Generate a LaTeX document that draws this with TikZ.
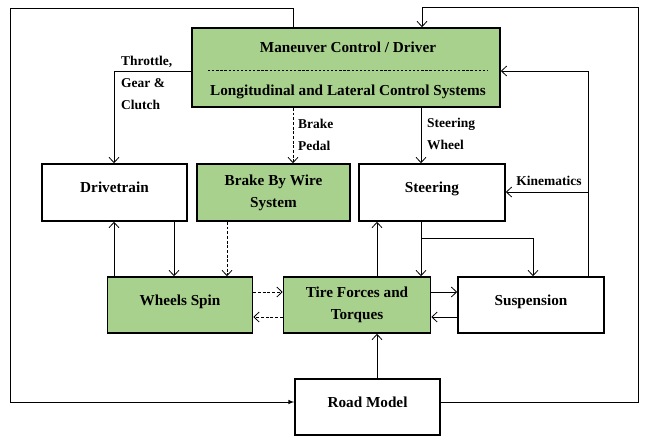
\documentclass[tikz,border=0pt]{standalone}
\usepackage{fontspec}
\usetikzlibrary{arrows.meta}
\setmainfont{Liberation Serif}
\definecolor{boxgreen}{RGB}{169,209,142}

\tikzset{
	    blk/.style={
					rectangle,
					draw=black,
					line width=1.4pt,
					inner sep=0pt,
					align=center,
					font=\bfseries\fontsize{13}{18.7}\selectfont
	    },
	    grn/.style={fill=boxgreen},
	    oneline/.style={text height=0.75em, text depth=0.75em},
	    lbl/.style={
					inner sep=0pt,
					align=left,
					font=\bfseries\fontsize{11.5}{18.7}\selectfont
	    },
	    link/.style={black, line width=0.7pt},
	    dlink/.style={link, dash pattern=on 2.5pt off 1.5pt},
	    >={Straight Barb[length=4.5pt, width=8.5pt]}
		}

\begin{document}
\begin{tikzpicture}[x=0.03cm, y=-0.03cm]
			\useasboundingbox (0,0) rectangle (648,436);

			% boxes
			\draw (346,67.5) node[blk, grn, minimum width=9.24cm, minimum height=2.37cm] (main) {};
			\draw (114.5,192.5) node[blk, oneline, minimum width=4.35cm, minimum height=1.71cm] (drive) {Drivetrain};
			\draw (273.5,192.5) node[blk, grn, minimum width=4.59cm, minimum height=1.71cm] (brake) {Brake By Wire\\System};
			\draw (432,192.5) node[blk, oneline, minimum width=4.38cm, minimum height=1.71cm] (steer) {Steering};
			\draw (180,305) node[blk, grn, oneline, minimum width=4.35cm, minimum height=1.68cm] (wheels) {Wheels Spin};
			\draw (357,305) node[blk, grn, minimum width=4.41cm, minimum height=1.68cm] (tire) {Tire Forces and\\Torques};
			\draw (531,305) node[blk, oneline, minimum width=4.38cm, minimum height=1.68cm] (susp) {Suspension};
			\draw (367.5,407) node[blk, oneline, minimum width=4.35cm, minimum height=1.68cm] (road) {Road Model};

			% driver box contents
			\draw (348,47) node[blk, draw=none] (title) {Maneuver Control / Driver};
			\draw (348,92) node[blk, draw=none] (subtitle) {Longitudinal and Lateral Control Systems};
			\draw[black, line width=0.5pt, dash pattern=on 2pt off 1.5pt] (208,70) to (487,70);

			% labels
			\draw (121,56) node[lbl, anchor=north west] (thr) {Throttle,\\Gear \&\\Clutch};
			\draw (298,119) node[lbl, anchor=north west] (bpd) {Brake\\Pedal};
			\draw (427,118) node[lbl, anchor=north west] (swh) {Steering\\Wheel};
			\draw (549,181) node[lbl] (kin) {Kinematics};

			\coordinate (kinfork) at (588,192);
			\coordinate (susfork) at (421,238);

			% outer loops
			\draw[link, -latex] (main.north -| 293,0) -- (293,8) -- (10,8) -- (10,402) -- (road.west |- 0,402);
			\draw[link, ->] (road.east |- 0,402) -- (638,402) -- (638,7) -- (422,7) -- (main.north -| 422,0);
			\draw[link, ->] (susp.north -| 588,0) -- (588,71) -- (main.east |- 0,71);
			\draw[link, ->] (kinfork) to (steer.east |- kinfork);

			% driver outputs
			\draw[link, ->] (main.west |- 0,71) -- (114,71) -- (drive.north -| 114,0);
			\draw[dlink, ->] (main.south -| 293,0) to (brake.north -| 293,0);
			\draw[link, ->] (main.south -| 421,0) to (steer.north -| 421,0);

			% middle row
			\draw[link, ->] (wheels.north -| 114,0) to (drive.south -| 114,0);
			\draw[link, ->] (drive.south -| 174,0) to (wheels.north -| 174,0);
			\draw[dlink, ->] (brake.south -| 227,0) to (wheels.north -| 227,0);
			\draw[link, ->] (tire.north -| 377,0) to (steer.south -| 377,0);
			\draw[link, ->] (steer.south -| 421,0) to (tire.north -| 421,0);
			\draw[link, ->] (susfork) -- (533,238) -- (susp.north -| 533,0);

			% bottom row
			\draw[dlink, ->] (wheels.east |- 0,292) to (tire.west |- 0,292);
			\draw[dlink, ->] (tire.west |- 0,317) to (wheels.east |- 0,317);
			\draw[link, ->] (tire.east |- 0,292) to (susp.west |- 0,292);
			\draw[link, ->] (susp.west |- 0,317) to (tire.east |- 0,317);
			\draw[link, ->] (road.north -| 377,0) to (tire.south -| 377,0);
		\end{tikzpicture}
\end{document}
